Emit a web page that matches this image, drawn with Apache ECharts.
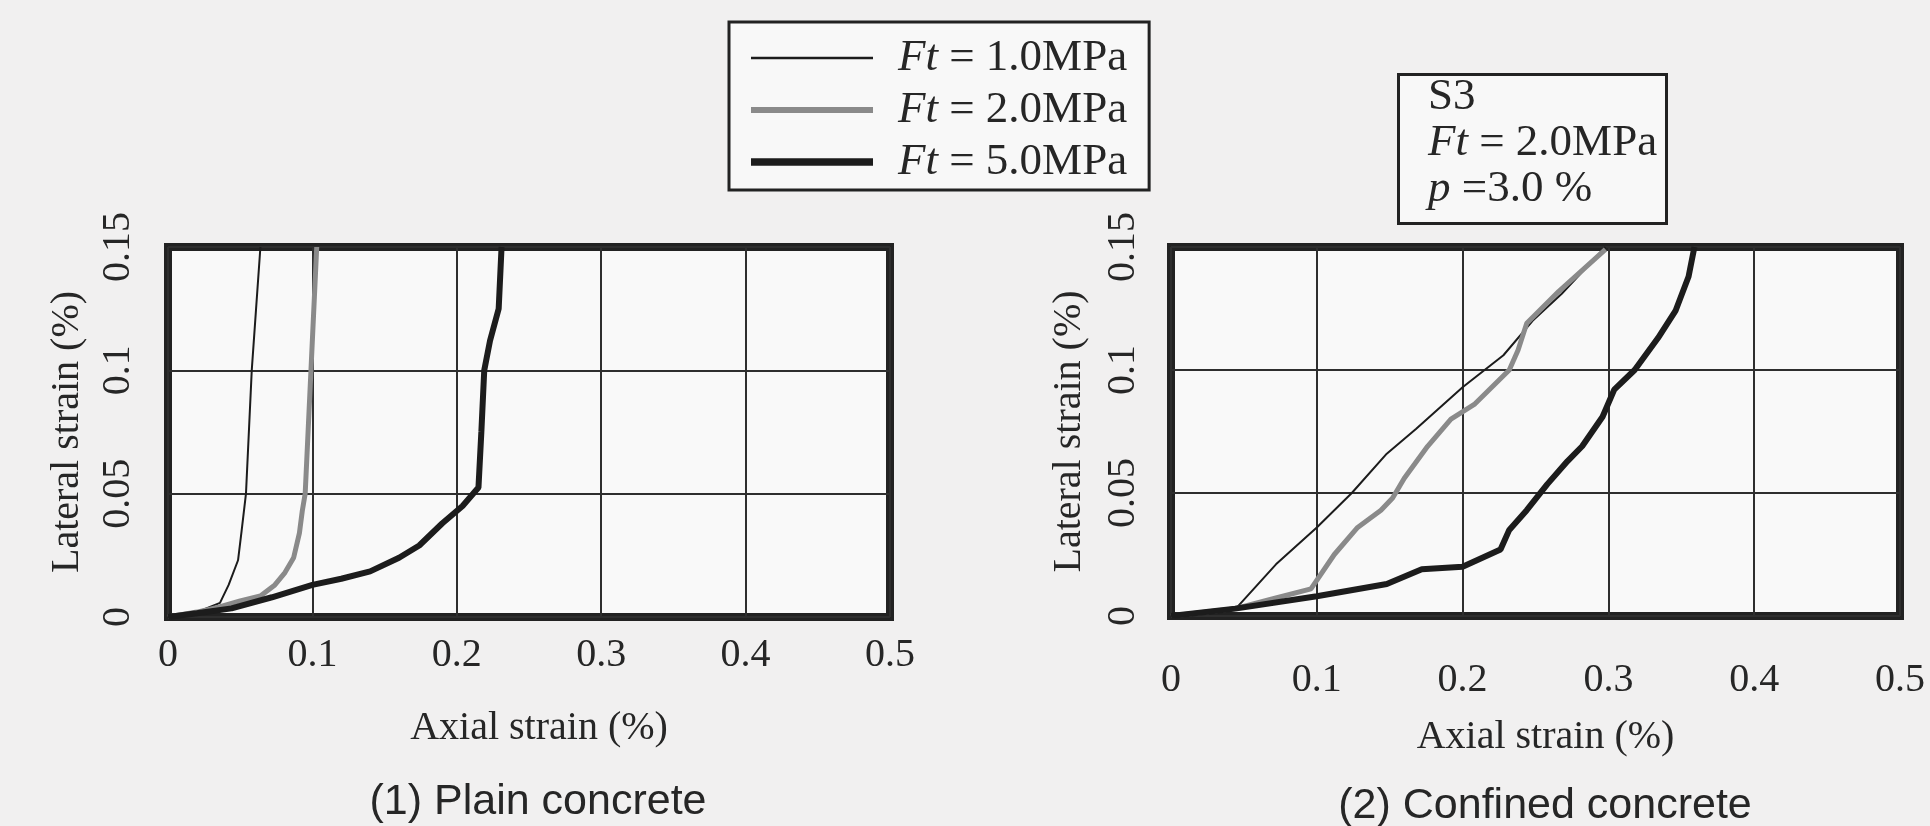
<!DOCTYPE html>
<html>
<head>
<meta charset="utf-8">
<title>Lateral strain vs axial strain</title>
<script src="https://cdn.jsdelivr.net/npm/echarts@6/dist/echarts.min.js"></script>
<style>
  html, body { margin: 0; padding: 0; background: #f1f0f0; }
  #chart { width: 1930px; height: 826px; }
</style>
</head>
<body>
<div id="chart"></div>
<script>
// Tick values and labels
const xTicks = [0, 0.1, 0.2, 0.3, 0.4, 0.5];
const xTickLabels = ['0', '0.1', '0.2', '0.3', '0.4', '0.5'];
const yTicks = [0, 0.05, 0.1, 0.15];
const yTickLabels = ['0', '0.05', '0.1', '0.15'];

const seriesNames = ['Ft = 1.0MPa', 'Ft = 2.0MPa', 'Ft = 5.0MPa'];

// (1) Plain concrete: [axial strain %, lateral strain %]
const plainFt1 = [[0, 0], [0.02, 0.002], [0.036, 0.0057], [0.042, 0.013], [0.0485, 0.023],
  [0.051, 0.035], [0.054, 0.05], [0.056, 0.075], [0.058, 0.1], [0.061, 0.125], [0.064, 0.15]];
const plainFt2 = [[0, 0], [0.02, 0.002], [0.035, 0.004], [0.05, 0.0065], [0.064, 0.0085],
  [0.074, 0.013], [0.081, 0.018], [0.087, 0.024], [0.091, 0.034], [0.093, 0.043],
  [0.095, 0.05], [0.097, 0.075], [0.099, 0.1], [0.101, 0.125], [0.103, 0.15]];
const plainFt5 = [[0, 0], [0.02, 0.0015], [0.044, 0.0035], [0.072, 0.008], [0.1, 0.013],
  [0.12, 0.0155], [0.14, 0.0185], [0.16, 0.024], [0.174, 0.029], [0.19, 0.038], [0.204, 0.045],
  [0.215, 0.0525], [0.217, 0.075], [0.219, 0.1], [0.223, 0.112], [0.229, 0.125], [0.231, 0.15]];

// (2) Confined concrete
const confFt1 = [[0, 0], [0.044, 0.0027], [0.072, 0.021], [0.1, 0.036], [0.124, 0.05],
  [0.148, 0.066], [0.168, 0.076], [0.2, 0.093], [0.228, 0.106], [0.248, 0.12],
  [0.268, 0.131], [0.298, 0.15]];
const confFt2 = [[0, 0], [0.044, 0.003], [0.07, 0.007], [0.096, 0.011], [0.112, 0.025],
  [0.128, 0.036], [0.144, 0.043], [0.152, 0.048], [0.16, 0.056], [0.176, 0.069],
  [0.192, 0.08], [0.208, 0.086], [0.22, 0.093], [0.232, 0.1], [0.238, 0.108],
  [0.244, 0.119], [0.266, 0.132], [0.298, 0.149]];
const confFt5 = [[0, 0], [0.044, 0.003], [0.1, 0.008], [0.148, 0.013], [0.172, 0.019],
  [0.2, 0.02], [0.226, 0.027], [0.232, 0.035], [0.244, 0.043], [0.258, 0.0535],
  [0.272, 0.063], [0.282, 0.069], [0.296, 0.081], [0.304, 0.092], [0.318, 0.1],
  [0.334, 0.113], [0.346, 0.124], [0.355, 0.138], [0.359, 0.15]];

const SERIF = 'Liberation Serif';
const SANS = 'Liberation Sans';
const INK = '#262626';

function labelFrom(ticks, labels) {
  return function (v) {
    for (let i = 0; i < ticks.length; i++) {
      if (Math.abs(ticks[i] - v) < 1e-9) return labels[i];
    }
    return '';
  };
}

function xAxisFor(gridIndex, labelMargin, nameGap) {
  return {
    gridIndex: gridIndex, type: 'value', min: 0, max: 0.5, interval: 0.1,
    name: 'Axial strain (%)', nameLocation: 'middle', nameGap: nameGap,
    nameTextStyle: { fontFamily: SERIF, fontSize: 40, color: INK, padding: [0, 0, 0, 20] },
    axisLine: { show: false }, axisTick: { show: false },
    axisLabel: { margin: labelMargin, fontFamily: SERIF, fontSize: 40, color: INK,
      formatter: labelFrom(xTicks, xTickLabels) },
    splitLine: { show: true, lineStyle: { color: '#2e2e2e', width: 2 } }
  };
}

function yAxisFor(gridIndex, labelMargin, nameGap) {
  return {
    gridIndex: gridIndex, type: 'value', min: 0, max: 0.15, interval: 0.05,
    name: 'Lateral strain (%)', nameLocation: 'middle', nameGap: nameGap, nameRotate: 90,
    nameTextStyle: { fontFamily: SERIF, fontSize: 40, color: INK },
    axisLine: { show: false }, axisTick: { show: false },
    axisLabel: { margin: labelMargin, rotate: 90, fontFamily: SERIF, fontSize: 40, color: INK,
      formatter: labelFrom(yTicks, yTickLabels) },
    splitLine: { show: true, lineStyle: { color: '#2e2e2e', width: 2 } }
  };
}

// Line look per tensile strength; legend keys are bars of the same thickness
const styles = [
  { color: '#1c1c1c', width: 2, icon: 'path://M0,0h100v2h-100z' },
  { color: '#8a8a8a', width: 5, icon: 'path://M0,0h100v5h-100z' },
  { color: '#1c1c1c', width: 6, icon: 'path://M0,0h100v6h-100z' }
];

function lineSeries(name, data, idx, style) {
  return {
    type: 'line', name: name, data: data, xAxisIndex: idx, yAxisIndex: idx,
    symbol: 'none', showSymbol: false, smooth: false, animation: false,
    lineStyle: { color: style.color, width: style.width },
    itemStyle: { color: style.color },
    emphasis: { disabled: true }, z: 3
  };
}

const italic = { fontStyle: 'italic', fontFamily: SERIF, fontSize: 45, color: INK, lineHeight: 50 };

const option = {
  backgroundColor: '#f1f0f0',
  animation: false,
  title: [
    { text: '(1) Plain concrete', left: 533, top: 776, textAlign: 'center',
      textStyle: { fontFamily: SANS, fontSize: 43, fontWeight: 'normal', color: INK } },
    { text: '(2) Confined concrete', left: 1540, top: 780, textAlign: 'center',
      textStyle: { fontFamily: SANS, fontSize: 43, fontWeight: 'normal', color: INK } },
    { text: 'S3\n{it|Ft} = 2.0MPa\n{it|p} =3.0 %', left: 1398, top: 74,
      borderColor: '#222', borderWidth: 3, backgroundColor: '#f8f8f8',
      padding: [0, 10, 12, 30],
      textStyle: { fontFamily: SERIF, fontSize: 45, fontWeight: 'normal', color: INK, lineHeight: 46,
        rich: { it: { fontStyle: 'italic', fontFamily: SERIF, fontSize: 45, color: INK, lineHeight: 46 } } } }
  ],
  legend: {
    data: seriesNames.map(function (n, i) { return { name: n, icon: styles[i].icon }; }),
    orient: 'vertical', left: 729, top: 22,
    itemWidth: 122, itemHeight: 14, itemGap: 2,
    padding: [11, 22, 3, 22],
    borderColor: '#222', borderWidth: 3, backgroundColor: '#f8f8f8',
    selectedMode: false,
    formatter: function (n) { return '{it|Ft}' + n.slice(2); },
    textStyle: { fontFamily: SERIF, fontSize: 45, color: INK, lineHeight: 50, padding: [0, 0, 0, 20],
      rich: { it: italic } }
  },
  grid: [
    { left: 168, top: 247, width: 722, height: 370, show: true,
      borderColor: '#222', borderWidth: 8, backgroundColor: '#f9f9f9' },
    { left: 1171, top: 247, width: 729, height: 369, show: true,
      borderColor: '#222', borderWidth: 8, backgroundColor: '#f9f9f9' }
  ],
  xAxis: [xAxisFor(0, 18, 91), xAxisFor(1, 44, 101)],
  yAxis: [yAxisFor(0, 30, 81), yAxisFor(1, 28, 82)],
  series: [
    lineSeries(seriesNames[0], plainFt1, 0, styles[0]),
    lineSeries(seriesNames[1], plainFt2, 0, styles[1]),
    lineSeries(seriesNames[2], plainFt5, 0, styles[2]),
    lineSeries(seriesNames[0], confFt1, 1, styles[0]),
    lineSeries(seriesNames[1], confFt2, 1, styles[1]),
    lineSeries(seriesNames[2], confFt5, 1, styles[2])
  ]
};

const chart = echarts.init(document.getElementById('chart'), null, { renderer: 'canvas' });
chart.setOption(option);
</script>
</body>
</html>
